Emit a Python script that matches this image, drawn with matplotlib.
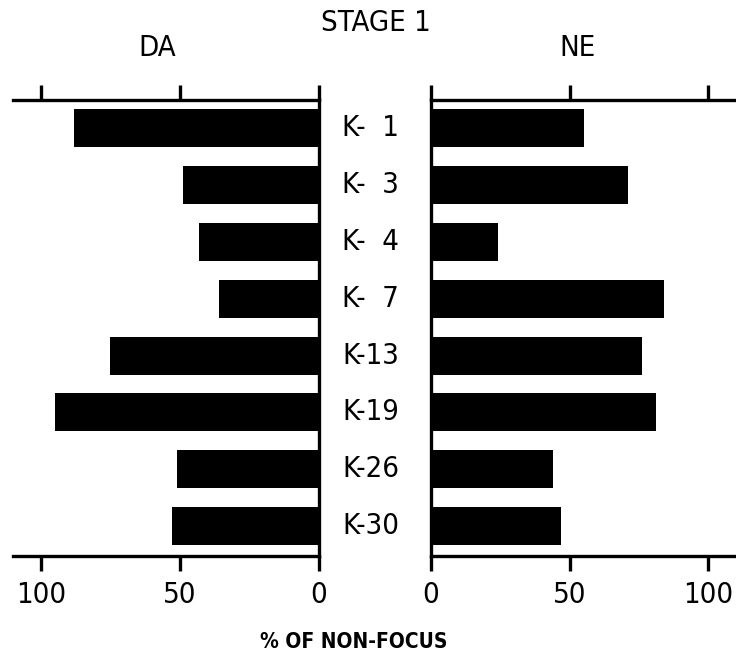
import matplotlib.pyplot as plt
from matplotlib.transforms import blended_transform_factory

# values (% of non-focus)
strains = ["K-\u20071", "K-\u20073", "K-\u20074", "K-\u20077", "K-13", "K-19", "K-26", "K-30"]
da_values = [88, 49, 43, 36, 75, 95, 51, 53]
ne_values = [55, 71, 24, 84, 76, 81, 44, 47]
ticks = [0, 50, 100]

plt.rcParams["font.family"] = "DejaVu Sans"
plt.rcParams["font.stretch"] = "condensed"

LW = 2.4
FS = 21

fig = plt.figure(figsize=(7.36, 6.57), dpi=100)
ax_l = fig.add_axes([13 / 736, 1 - 556 / 657, 306 / 736, 456 / 657])
ax_r = fig.add_axes([431 / 736, 1 - 556 / 657, 305 / 736, 456 / 657])

pos = list(range(len(strains)))

ax_l.barh(pos, da_values, height=0.67, color="black")
ax_r.barh(pos, ne_values, height=0.67, color="black")

ax_l.set_xlim(110, 0)
ax_r.set_xlim(0, 110)

for ax in (ax_l, ax_r):
    ax.set_ylim(len(strains) - 0.47, -0.5)
    ax.set_yticks([])
    ax.set_xticks(ticks)
    ax.set_xticklabels([str(t) for t in ticks], fontsize=FS)
    ax.tick_params(axis="x", which="both", direction="out", length=11,
                   width=LW, top=True, labeltop=False, bottom=True, pad=7)
    for side in ("top", "bottom", "left", "right"):
        ax.spines[side].set_linewidth(LW)

ax_l.spines["left"].set_visible(False)
ax_r.spines["right"].set_visible(False)

# strain labels between the two panels
trans = blended_transform_factory(fig.transFigure, ax_l.transData)
for p, name in zip(pos, strains):
    ax_l.text(342 / 736, p, name, transform=trans, ha="left", va="center",
              fontsize=FS)

fig.text(376 / 736, 1 - 23 / 657, "STAGE 1", ha="center", va="center", fontsize=FS)
fig.text(157 / 736, 1 - 48 / 657, "DA", ha="center", va="center", fontsize=FS)
fig.text(578 / 736, 1 - 48 / 657, "NE", ha="center", va="center", fontsize=FS)
fig.text(354 / 736, 1 - 642 / 657, "% OF NON-FOCUS", ha="center", va="center",
         fontsize=15, fontweight="bold")

fig.savefig("out.png", dpi=100)
